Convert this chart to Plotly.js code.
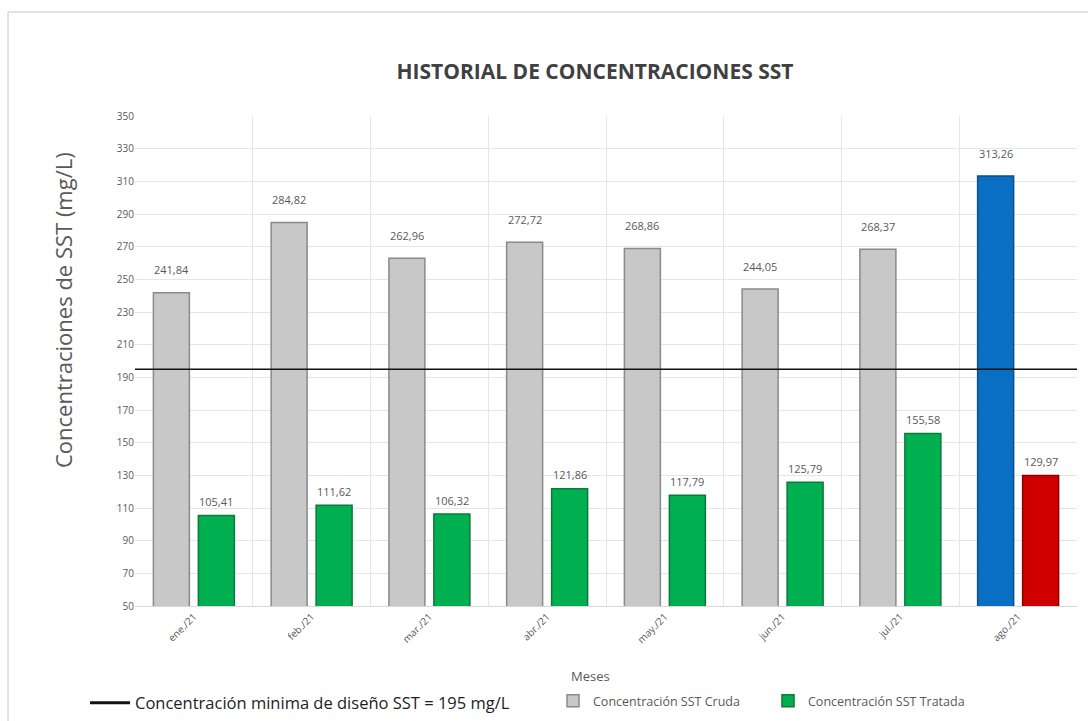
<!DOCTYPE html>
<html>
<head>
<meta charset="utf-8">
<script src="https://cdn.plot.ly/plotly-3.0.1.min.js"></script>
<style>html,body{margin:0;padding:0;background:#fff;}#chart{width:1088px;height:721px;}</style>
</head>
<body>
<div id="chart"></div>
<script>
const months = ["ene./21","feb./21","mar./21","abr./21","may./21","jun./21","jul./21","ago./21"];
const cruda = [241.84, 284.82, 262.96, 272.72, 268.86, 244.05, 268.37, 313.26];
const tratada = [105.41, 111.62, 106.32, 121.86, 117.79, 125.79, 155.58, 129.97];
const crudaColors = ["#c8c8c8","#c8c8c8","#c8c8c8","#c8c8c8","#c8c8c8","#c8c8c8","#c8c8c8","#0a6fc2"];
const crudaLines = ["#8a8a8a","#8a8a8a","#8a8a8a","#8a8a8a","#8a8a8a","#8a8a8a","#8a8a8a","#0a4f8a"];
const tratadaColors = ["#00b050","#00b050","#00b050","#00b050","#00b050","#00b050","#00b050","#d00000"];
const tratadaLines = ["#0a7a3a","#0a7a3a","#0a7a3a","#0a7a3a","#0a7a3a","#0a7a3a","#0a7a3a","#8a0000"];
const designMin = 195;
const designLabel = "Concentración minima de diseño SST = 195 mg/L";
const chartTitle = "HISTORIAL DE CONCENTRACIONES SST";
const yTitle = "Concentraciones de SST (mg/L)";
const xTitle = "Meses";

const fmt = v => v.toFixed(2).replace(".", ",");
const FONT = "'Open Sans', sans-serif";

const traces = [
  {
    type: "bar", x: months, y: cruda, name: "Concentración SST Cruda",
    marker: {color: crudaColors, line: {color: crudaLines, width: 1.5}},
    legend: "legend2", hoverinfo: "x+y"
  },
  {
    type: "bar", x: months, y: tratada, name: "Concentración SST Tratada",
    marker: {color: tratadaColors, line: {color: tratadaLines, width: 1.5}},
    legend: "legend2", hoverinfo: "x+y"
  },
  {
    type: "scatter", mode: "lines", x: [null], y: [null], name: designLabel,
    line: {color: "#111", width: 3}, legend: "legend", hoverinfo: "skip"
  }
];

// data labels as annotations placed by the axes (offset per series)
const annotations = [];
months.forEach((m, i) => {
  annotations.push({x: m, y: cruda[i], xref: "x", yref: "y", text: fmt(cruda[i]), showarrow: false,
    xshift: -22.5, yshift: 23, yanchor: "middle", font: {size: 11, color: "#595959", family: FONT}});
  annotations.push({x: m, y: tratada[i], xref: "x", yref: "y", text: fmt(tratada[i]), showarrow: false,
    xshift: 22.5, yshift: 14, yanchor: "middle", font: {size: 11, color: "#595959", family: FONT}});
});
annotations.push({xref: "paper", yref: "paper", x: (63-135)/942, y: (606-310)/490, xanchor: "center", yanchor: "middle",
  text: yTitle, textangle: -90, showarrow: false, font: {size: 22, color: "#595959", family: FONT}});
annotations.push({xref: "paper", yref: "paper", x: (590-135)/942, y: (606-676)/490, xanchor: "center", yanchor: "middle",
  text: xTitle, showarrow: false, font: {size: 13, color: "#595959", family: FONT}});

const layout = {
  width: 1088, height: 721,
  paper_bgcolor: "#fff", plot_bgcolor: "#fff",
  margin: {l: 135, r: 11, t: 116, b: 115},
  font: {family: FONT, color: "#595959"},
  title: {text: "<b>" + chartTitle + "</b>", x: 595/1088, xanchor: "center", y: 1 - 72/721, yanchor: "middle",
          font: {size: 21, color: "#404040", family: FONT}},
  barmode: "group", bargap: 0.236, bargroupgap: 0.2,
  xaxis: {
    type: "category", tickson: "boundaries", showgrid: true, gridcolor: "#e6e6e6",
    ticks: "", tickangle: -45, tickfont: {size: 10, color: "#595959"},
    showline: true, linecolor: "#d9d9d9"
  },
  yaxis: {
    range: [50, 350], tick0: 50, dtick: 20, showgrid: true, gridcolor: "#e6e6e6",
    tickfont: {size: 10, color: "#595959"}, zeroline: false, showline: false, ticks: ""
  },
  annotations: annotations,
  shapes: [
    {type: "line", xref: "paper", yref: "y", x0: 0, x1: 1, y0: designMin, y1: designMin, line: {color: "#111", width: 1.5}},
    {type: "line", xref: "paper", yref: "paper", x0: -0.1348, x1: 1.02, y0: 1 + (116-12)/490, y1: 1 + (116-12)/490, line: {color: "#d9d9d9", width: 1.5}},
    {type: "line", xref: "paper", yref: "paper", x0: -0.1348, x1: -0.1348, y0: 1 + (116-12)/490, y1: -0.25, line: {color: "#d9d9d9", width: 1.5}}
  ],
  showlegend: true,
  legend: {
    xref: "container", yref: "container", x: 85/1088, y: 1 - 703/721, xanchor: "left", yanchor: "middle",
    orientation: "h", font: {size: 16.5, color: "#222", family: FONT}, bgcolor: "rgba(0,0,0,0)", itemwidth: 40
  },
  legend2: {
    xref: "container", yref: "container", x: 553/1088, y: 1 - 701/721, xanchor: "left", yanchor: "middle",
    orientation: "h", font: {size: 12.5, color: "#595959", family: FONT}, bgcolor: "rgba(0,0,0,0)",
    itemwidth: 30, traceorder: "normal", entrywidth: 170, entrywidthmode: "pixels"
  }
};

Plotly.newPlot("chart", traces, layout, {displayModeBar: false, staticPlot: true});
</script>
</body>
</html>
